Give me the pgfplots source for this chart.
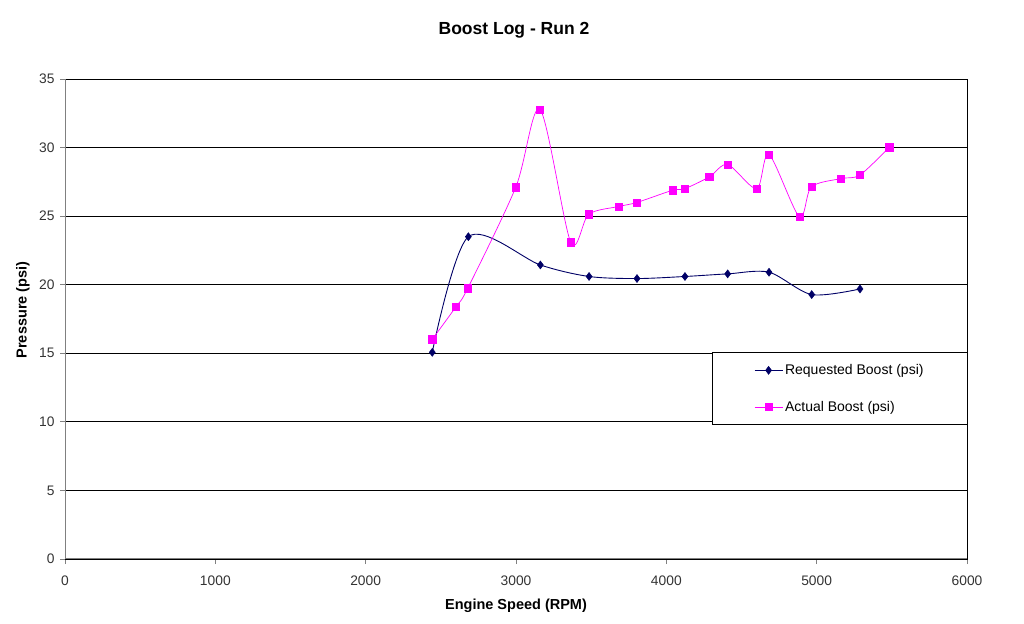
\documentclass[border=0pt]{standalone}
\usepackage{pgfplots}
\pgfplotsset{compat=1.18}
\usepackage{fontspec}
\setmainfont{Liberation Sans}
\definecolor{reqc}{RGB}{0,0,102}
\definecolor{actc}{RGB}{255,0,255}
\definecolor{axgray}{RGB}{128,128,128}
\begin{document}
\begin{tikzpicture}[x=1pt,y=1pt]
\path[use as bounding box] (0,0) rectangle (1024,623);
\begin{axis}[
  at={(65pt,64pt)}, anchor=south west,
  scale only axis, width=902pt, height=480pt,
  xmin=0, xmax=6000, ymin=0, ymax=35,
  xtick={0,1000,...,6000}, ytick={0,5,...,35},
  scaled x ticks=false,
  /pgf/number format/assume math mode=true,
  /pgf/number format/1000 sep={},
  ticklabel style={font=\fontsize{13.8}{16}\selectfont, text=black!80},
  tick align=outside, xtick pos=left, ytick pos=left,
  major tick length=5pt,
  tick style={axgray, line width=0.8pt},
  ymajorgrids, grid style={black, line width=0.8pt},
  axis line style={black, line width=0.8pt},
  xticklabel style={yshift=-8pt},
  yticklabel style={xshift=-2pt},
  legend style={at={(0.717,0.431)}, anchor=north west, draw=black, line width=0.8pt,
    font=\fontsize{14}{16}\selectfont, inner xsep=42pt, inner ysep=10pt,
    row sep=21pt, legend cell align=left},
  legend image code/.code={
    \draw[#1, mark repeat=2, mark phase=2] plot coordinates {(0pt,0pt) (14pt,0pt) (28pt,0pt)};
  },
]
\draw[axgray, line width=1pt] (rel axis cs:0,0) -- (rel axis cs:0,1);
\draw[axgray, line width=1pt] (rel axis cs:0,0) -- (rel axis cs:1,0);
\addplot[reqc, line width=0.9pt, smooth, tension=0.5, mark=diamond*, mark size=4pt, mark options={fill=reqc, draw=reqc, line width=0.5pt}] coordinates {
(2443,15.07) (2683,23.5) (3162,21.44) (3486,20.6) (3805,20.45) (4124,20.6)
(4408,20.79) (4683,20.91) (4967,19.28) (5288,19.69)
};
\addlegendentry{Requested Boost (psi)}
\addplot[actc, line width=0.7pt, smooth, tension=0.5, mark=square*, mark size=3.6pt, mark options={fill=actc, draw=actc, line width=0.5pt}] coordinates {
(2443,16.02) (2601,18.4) (2679,19.74) (2998,27.1) (3160,32.77) (3364,23.1)
(3484,25.14) (3681,25.7) (3805,26.0) (4042,26.89) (4122,27.0) (4286,27.86)
(4408,28.76) (4601,27.0) (4683,29.49) (4885,24.95) (4965,27.13) (5162,27.74)
(5288,28.0) (5483,30.03)
};
\addlegendentry{Actual Boost (psi)}
\end{axis}
\node[font=\bfseries\fontsize{17.5}{20}\selectfont] at (514,593) {Boost Log - Run 2};
\node[font=\bfseries\fontsize{14.5}{17}\selectfont, rotate=90] at (23,313) {Pressure (psi)};
\node[font=\bfseries\fontsize{14.5}{17}\selectfont] at (516,17) {Engine Speed (RPM)};
\end{tikzpicture}
\end{document}
